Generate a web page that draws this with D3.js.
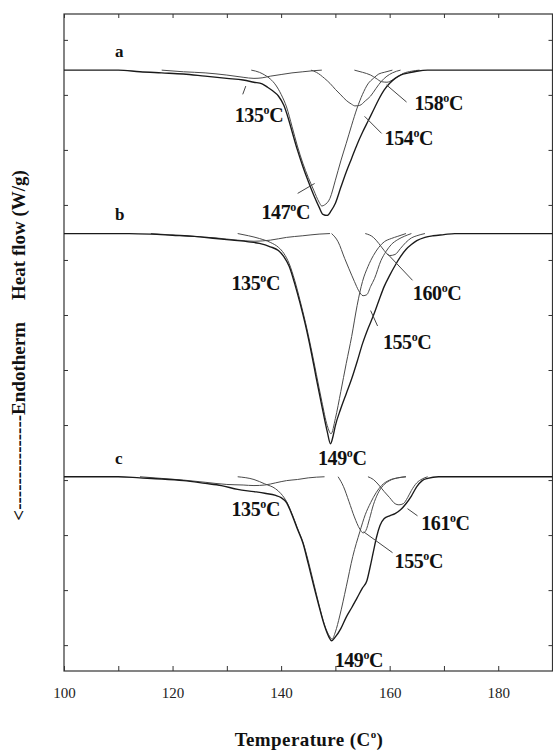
<!DOCTYPE html>
<html>
<head>
<meta charset="utf-8">
<script src="https://cdn.jsdelivr.net/npm/d3@7"></script>
<style>
  html, body { margin: 0; padding: 0; background: #fff; }
  svg { display: block; }
</style>
</head>
<body>
<svg id="chart" width="553" height="753"></svg>
<script>
// DSC melting endotherms of three samples (a, b, c) with their deconvoluted peaks.
// Every curve: [temperature (°C), heat flow (W/g) relative to its own baseline].

// ---- sample a ----
const totalA = [[100,0],[110,0],[114,-0.03],[118,-0.05],[122,-0.07],[126,-0.11],[130,-0.15],[133,-0.18],[135,-0.22],[136.5,-0.25],[137.5,-0.31],[138.5,-0.38],[139.5,-0.47],[140.5,-0.64],[141.3,-0.87],[142,-1.11],[143,-1.45],[144,-1.75],[145,-2.02],[146,-2.27],[147,-2.49],[147.7,-2.62],[148.5,-2.64],[149.2,-2.56],[150,-2.42],[151,-2.13],[152,-1.85],[153,-1.6],[154,-1.35],[155,-1.13],[156,-0.93],[157,-0.73],[158,-0.53],[159,-0.36],[160,-0.24],[161,-0.15],[162,-0.09],[163.5,-0.05],[165,-0.02],[167,0],[190,0]];
const peak135A = [[118,0],[122,-0.03],[126,-0.05],[130,-0.09],[133,-0.13],[135,-0.15],[136.5,-0.14],[138,-0.11],[140,-0.08],[142,-0.05],[144,-0.03],[146,-0.01],[147.5,0]];
const peak147A = [[134.5,0],[136,-0.04],[137,-0.09],[138,-0.16],[139,-0.27],[140,-0.44],[141,-0.67],[142,-1.02],[143,-1.38],[144,-1.69],[145,-1.95],[146,-2.18],[147,-2.4],[147.5,-2.47],[148,-2.45],[149,-2.33],[150,-2.0],[151,-1.65],[152,-1.33],[153,-1.0],[154,-0.69],[155,-0.44],[156,-0.25],[157,-0.15],[158,-0.07],[159,-0.04],[160.5,0]];
const peak154A = [[145.5,0],[146.5,-0.04],[148,-0.15],[149,-0.24],[150,-0.35],[151,-0.45],[152,-0.55],[153,-0.62],[153.6,-0.65],[154.5,-0.64],[155.5,-0.56],[156.5,-0.47],[157.5,-0.33],[158.5,-0.2],[159.5,-0.11],[160.5,-0.05],[162,0]];
const peak158A = [[153.5,0],[155,-0.04],[156.5,-0.09],[157.5,-0.15],[158.5,-0.21],[159.5,-0.22],[160.5,-0.18],[161.5,-0.12],[162.5,-0.06],[164,-0.02],[165.5,0]];

// ---- sample b ----
const totalB = [[100,0],[112,0],[116,-0.01],[120,-0.03],[124,-0.05],[128,-0.09],[131,-0.12],[134,-0.15],[136,-0.18],[138,-0.24],[139.5,-0.31],[140.5,-0.42],[141.5,-0.6],[142.5,-0.91],[143.5,-1.27],[144.5,-1.67],[145.5,-2.13],[146.5,-2.64],[147.5,-3.13],[148.5,-3.6],[149.1,-3.82],[149.6,-3.67],[150,-3.49],[151,-3.18],[152,-2.91],[153,-2.64],[154,-2.33],[155,-2.0],[156,-1.73],[157,-1.49],[158,-1.22],[159,-0.96],[160,-0.76],[161,-0.58],[162,-0.42],[163,-0.29],[164,-0.2],[165,-0.13],[166.5,-0.07],[168,-0.04],[170,-0.02],[172,0],[190,0]];
const peak135B = [[116,0],[122,-0.04],[128,-0.08],[132,-0.12],[135,-0.14],[138,-0.12],[141,-0.07],[144,-0.04],[147,-0.01],[149,0]];
const peak149B = [[132,0],[134,-0.04],[136,-0.09],[138,-0.16],[139.5,-0.25],[140.5,-0.36],[141.5,-0.55],[142.5,-0.85],[143.5,-1.22],[144.5,-1.62],[145.5,-2.07],[146.5,-2.56],[147.5,-3.05],[148.5,-3.49],[149.2,-3.64],[150,-3.36],[151,-2.87],[152,-2.36],[153,-1.87],[154,-1.31],[154.5,-1.07],[155,-0.87],[156,-0.6],[157,-0.4],[158,-0.25],[159,-0.15],[160.3,-0.09],[161.5,-0.05],[163,0]];
const peak155B = [[149.3,0],[150.5,-0.15],[151.7,-0.45],[152.5,-0.64],[153.5,-0.87],[154.3,-1.04],[155.1,-1.13],[155.8,-1.11],[156.5,-0.96],[157.2,-0.82],[158.4,-0.49],[159.3,-0.33],[160.3,-0.2],[161.5,-0.11],[162.7,-0.05],[164,0]];
const peak160B = [[155.5,0],[157,-0.07],[158,-0.18],[159,-0.31],[160,-0.4],[161,-0.38],[162,-0.27],[163,-0.16],[164,-0.08],[165,-0.04],[166.5,0]];

// ---- sample c ----
const totalC = [[100,0],[110,0],[114,-0.02],[118,-0.04],[122,-0.07],[126,-0.12],[129,-0.16],[132,-0.23],[135,-0.27],[137,-0.3],[139,-0.34],[140,-0.38],[141,-0.47],[142,-0.69],[143,-0.95],[144,-1.2],[145,-1.58],[146,-1.98],[147,-2.36],[148,-2.71],[148.8,-2.91],[149.3,-2.98],[150,-2.91],[151,-2.76],[152,-2.55],[153,-2.38],[154,-2.2],[155,-2.02],[155.8,-1.89],[156.4,-1.64],[157,-1.36],[157.6,-1.09],[158.2,-0.89],[159,-0.76],[160,-0.71],[161,-0.67],[162,-0.6],[163,-0.49],[164,-0.35],[165,-0.18],[166,-0.07],[167,-0.03],[169,0],[190,0]];
const peak135C = [[114,0],[118,-0.03],[122,-0.06],[126,-0.1],[130,-0.14],[133,-0.15],[135,-0.16],[137,-0.15],[139,-0.11],[141,-0.07],[143,-0.05],[145,-0.02],[148,0]];
const peak149C = [[132,0],[135,-0.05],[137,-0.13],[139,-0.22],[140,-0.31],[141,-0.45],[142,-0.67],[143,-0.93],[144,-1.18],[145,-1.53],[146,-1.93],[147,-2.33],[148,-2.69],[149,-2.91],[149.4,-2.95],[150,-2.82],[150.8,-2.53],[152,-2.0],[153.2,-1.45],[154.5,-1.0],[155.5,-0.69],[156.5,-0.47],[157.5,-0.29],[158.5,-0.16],[160,-0.06],[161.5,-0.02],[163,0]];
const peak155C = [[150.5,0],[151.5,-0.18],[152.5,-0.45],[153.5,-0.73],[154.5,-0.95],[155.1,-1.02],[155.6,-0.98],[156.3,-0.76],[157,-0.51],[157.8,-0.31],[158.8,-0.16],[160,-0.07],[161.5,-0.02],[163,0]];
const peak161C = [[156,0],[157,-0.05],[158,-0.15],[159,-0.27],[160,-0.38],[161,-0.49],[161.7,-0.51],[162.5,-0.49],[163.3,-0.38],[164,-0.25],[165,-0.11],[166,-0.04],[167,0]];

// sample names and the vertical shift applied to each trace (W/g)
const sampleNames = ["a", "b", "c"];
const sampleShift = [-0.55, -3.52, -7.94];
const sampleTotals = [totalA, totalB, totalC];
const samplePeaks = [
  [peak135A, peak147A, peak154A, peak158A],
  [peak135B, peak149B, peak155B, peak160B],
  [peak135C, peak149C, peak155C, peak161C]
];

// peak temperature labels: sample index, text, anchor temperature, heat flow (rel. baseline)
const peakLabelText = ["135", "147", "154", "158", "135", "149", "155", "160", "135", "149", "155", "161"];
const peakLabelSample = [0, 0, 0, 0, 1, 1, 1, 1, 2, 2, 2, 2];
const peakLabelT = [131.46, 136.38, 159.06, 164.58, 130.86, 146.79, 158.75, 164.27, 130.86, 149.86, 160.9, 165.81];
const peakLabelQ = [-0.94, -2.70, -1.36, -0.73, -1.03, -4.21, -2.09, -1.21, -0.72, -3.45, -1.66, -0.96];

// leader lines from labels to the curves: sample, [T1, q1, T2, q2]
const leaderSample = [0, 0, 0, 0, 1, 1, 2, 2];
const leaderLines = [
  [132.93, -0.44, 133.49, -0.29],
  [143.05, -2.24, 146.18, -2.06],
  [158.51, -1.15, 155.38, -0.84],
  [163.11, -0.58, 159.43, -0.27],
  [164.21, -0.85, 159.61, -0.37],
  [157.77, -1.68, 156.49, -1.40],
  [165.13, -0.71, 163.29, -0.58],
  [160.53, -1.38, 155.20, -1.00]
];

// axis ticks
const xTickValues = [100, 110, 120, 130, 140, 150, 160, 170, 180, 190];
const xTickLabels = [100, 120, 140, 160, 180];
const yTickValues = [-11, -10, -9, -8, -7, -6, -5, -4, -3, -2, -1, 0];

// ---------------------------------------------------------------
const svg = d3.select("#chart");
const serif = "'Liberation Serif', 'Times New Roman', serif";

const x = d3.scaleLinear().domain([100, 190]).range([64, 552.5]);
const y = d3.scaleLinear().domain([-11.47, 0.47]).range([671, 14]);

const plotLeft = x(100), plotRight = x(190), plotTop = y(0.47), plotBottom = y(-11.47);

// axes with inward ticks on all four sides
function styleAxis(g) {
  g.select(".domain").remove();
  g.selectAll(".tick line").attr("stroke", "#333").attr("stroke-width", 1);
  g.selectAll(".tick text").attr("font-family", serif).attr("font-size", 15).attr("fill", "#222");
}

svg.append("g")
  .attr("transform", `translate(0,${plotBottom})`)
  .call(d3.axisBottom(x).tickValues(xTickValues).tickSizeInner(-5).tickSizeOuter(0).tickPadding(16)
    .tickFormat(d => xTickLabels.includes(d) ? d : ""))
  .call(styleAxis);

svg.append("g")
  .attr("transform", `translate(0,${plotTop})`)
  .call(d3.axisTop(x).tickValues(xTickValues).tickSizeInner(-4).tickSizeOuter(0).tickFormat(""))
  .call(styleAxis);

svg.append("g")
  .attr("transform", `translate(${plotLeft},0)`)
  .call(d3.axisLeft(y).tickValues(yTickValues).tickSizeInner(-4).tickSizeOuter(0).tickFormat(""))
  .call(styleAxis);

svg.append("g")
  .attr("transform", `translate(${plotRight},0)`)
  .call(d3.axisRight(y).tickValues(yTickValues).tickSizeInner(-4).tickSizeOuter(0).tickFormat(""))
  .call(styleAxis);

svg.append("rect")
  .attr("x", plotLeft).attr("y", plotTop)
  .attr("width", plotRight - plotLeft).attr("height", plotBottom - plotTop)
  .attr("fill", "none").attr("stroke", "#333").attr("stroke-width", 1.2);

// traces
const curves = svg.append("g");
sampleTotals.forEach((total, i) => {
  const line = d3.line()
    .x(d => x(d[0]))
    .y(d => y(sampleShift[i] + d[1]))
    .curve(d3.curveMonotoneX);

  samplePeaks[i].forEach(p => {
    curves.append("path").attr("d", line(p))
      .attr("fill", "none").attr("stroke", "#4a4a4a").attr("stroke-width", 1);
  });
  curves.append("path").attr("d", line(total))
    .attr("fill", "none").attr("stroke", "#1a1a1a").attr("stroke-width", 1.35);

  // sample letter
  svg.append("text")
    .attr("x", x(109.4)).attr("y", y(sampleShift[i] + 0.24))
    .attr("font-family", serif).attr("font-weight", "bold").attr("font-size", 17).attr("fill", "#111")
    .text(sampleNames[i]);
});

// leader lines
leaderLines.forEach((l, k) => {
  const s = sampleShift[leaderSample[k]];
  svg.append("line")
    .attr("x1", x(l[0])).attr("y1", y(s + l[1]))
    .attr("x2", x(l[2])).attr("y2", y(s + l[3]))
    .attr("stroke", "#444").attr("stroke-width", 1);
});

// peak temperature labels, e.g. 135°C with a raised "o"
peakLabelText.forEach((t, k) => {
  const s = sampleShift[peakLabelSample[k]];
  const txt = svg.append("text")
    .attr("x", x(peakLabelT[k])).attr("y", y(s + peakLabelQ[k]))
    .attr("font-family", serif).attr("font-weight", "bold").attr("font-size", 20)
    .attr("fill", "#111").attr("letter-spacing", -0.4);
  txt.append("tspan").text(t);
  txt.append("tspan").attr("font-size", 12).attr("dy", -8).text("o");
  txt.append("tspan").attr("dy", 8).text("C");
});

// axis titles
const xt = svg.append("text")
  .attr("x", 309).attr("y", 746).attr("text-anchor", "middle")
  .attr("font-family", serif).attr("font-weight", "bold").attr("font-size", 19)
  .attr("letter-spacing", 0.4).attr("fill", "#111");
xt.append("tspan").text("Temperature (C");
xt.append("tspan").attr("font-size", 11).attr("dy", -8).text("o");
xt.append("tspan").attr("dy", 8).text(")");

svg.append("text")
  .attr("transform", "translate(25,235) rotate(-90)")
  .attr("text-anchor", "middle")
  .attr("font-family", serif).attr("font-weight", "bold").attr("font-size", 19).attr("fill", "#111")
  .text("Heat flow (W/g)");

svg.append("text")
  .attr("transform", "translate(25,322) rotate(-90)")
  .attr("text-anchor", "end")
  .attr("font-family", serif).attr("font-weight", "bold").attr("font-size", 19).attr("fill", "#111")
  .text("<---------------Endotherm");
</script>
</body>
</html>
